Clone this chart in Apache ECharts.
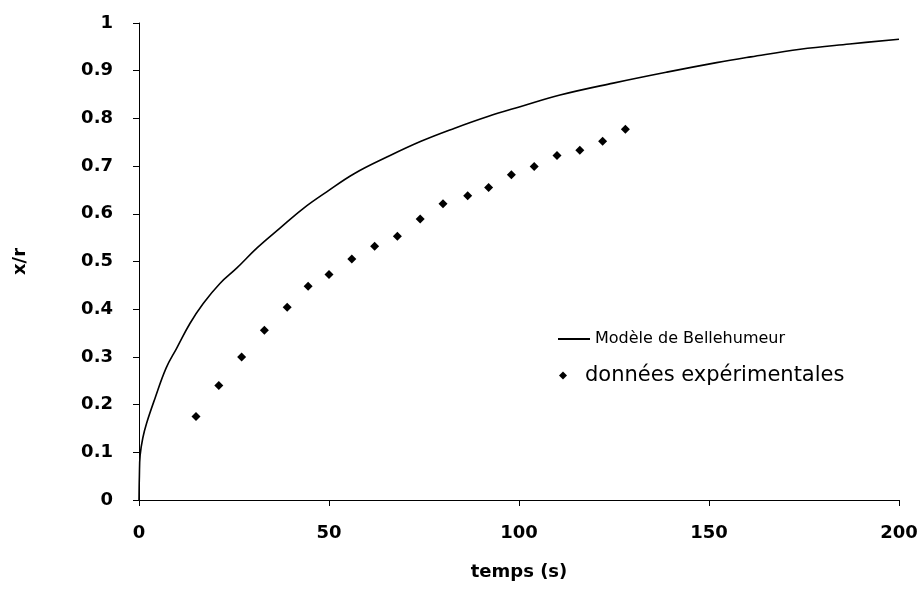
<!DOCTYPE html>
<html><head><meta charset="utf-8">
<script src="https://cdn.jsdelivr.net/npm/echarts@6/dist/echarts.min.js"></script>
<style>html,body{margin:0;padding:0;background:#fff}#c{width:923px;height:602px}</style>
</head><body><div id="c"></div>
<script>
const modelT = [0, 0.1, 0.3, 1, 2, 4.2, 7.1, 9.9, 13.4, 16.9, 21.3, 25.7, 31, 37.1, 43.2, 49.4, 56.6, 65.5, 74.2, 82.9, 91.8, 100.5, 110.8, 124.8, 138.9, 152, 161, 174, 187, 200];
const modelY = [0, 0.05, 0.094, 0.13, 0.161, 0.213, 0.276, 0.318, 0.370, 0.412, 0.454, 0.486, 0.528, 0.570, 0.611, 0.646, 0.684, 0.720, 0.752, 0.779, 0.804, 0.825, 0.849, 0.874, 0.897, 0.917, 0.929, 0.945, 0.956, 0.966];
const expT = [15, 21, 27, 33, 39, 44.5, 50, 56, 62, 68, 74, 80, 86.5, 92, 98, 104, 110, 116, 122, 128];
const expY = [0.175, 0.24, 0.30, 0.356, 0.404, 0.448, 0.473, 0.505, 0.532, 0.553, 0.589, 0.621, 0.638, 0.655, 0.682, 0.699, 0.722, 0.733, 0.752, 0.777];
const xTicks = [0, 50, 100, 150, 200];
const yTicks = [0, 0.1, 0.2, 0.3, 0.4, 0.5, 0.6, 0.7, 0.8, 0.9, 1];
const seriesNames = ['Modèle de Bellehumeur', 'données expérimentales'];

const font = 'DejaVu Sans, Verdana, sans-serif';
const chart = echarts.init(document.getElementById('c'));
chart.setOption({
  animation: false,
  backgroundColor: '#fff',
  grid: {left: 139, right: 24, top: 23, bottom: 102},
  legend: [
    {data: [{name: seriesNames[0], icon: 'rect'}], left: 558, top: 331, padding: 0, itemWidth: 32, itemHeight: 2,
     itemStyle: {color: '#000', opacity: 1},
     textStyle: {fontSize: 16, color: '#000', fontFamily: font}},
    {data: [{name: seriesNames[1], icon: 'diamond'}], left: 559, top: 365, padding: 0, itemWidth: 8, itemHeight: 8,
     itemStyle: {color: '#000', opacity: 1},
     textStyle: {fontSize: 21, color: '#000', fontFamily: font, padding: [0,0,0,13]}}
  ],
  xAxis: {
    type: 'value', min: xTicks[0], max: xTicks[xTicks.length - 1], interval: 50,
    name: 'temps (s)', nameLocation: 'middle', nameGap: 63,
    nameTextStyle: {fontSize: 18, fontWeight: 'bold', color: '#000', fontFamily: font},
    axisLine: {lineStyle: {color: '#000', width: 1}},
    axisTick: {show: true, length: 6, lineStyle: {color: '#000'}},
    axisLabel: {fontSize: 18, fontWeight: 'bold', color: '#000', fontFamily: font, margin: 24},
    splitLine: {show: false}
  },
  yAxis: {
    type: 'value', min: yTicks[0], max: yTicks[yTicks.length - 1], interval: 0.1,
    name: 'x/r', nameLocation: 'middle', nameGap: 110, nameRotate: 90,
    nameTextStyle: {fontSize: 18, fontWeight: 'bold', color: '#000', fontFamily: font},
    axisLine: {show: true, lineStyle: {color: '#000', width: 1}},
    axisTick: {show: true, length: 6, lineStyle: {color: '#000'}},
    axisLabel: {fontSize: 18, fontWeight: 'bold', color: '#000', fontFamily: font, margin: 26,
      formatter: v => String(Math.round(v * 10) / 10)},
    splitLine: {show: false}
  },
  series: [
    {name: seriesNames[0], type: 'line', smooth: 0.4, symbol: 'none',
     lineStyle: {color: '#000', width: 1.6},
     itemStyle: {color: '#000'},
     data: modelT.map((t, i) => [t, modelY[i]])},
    {name: seriesNames[1], type: 'scatter', symbol: 'diamond', symbolSize: 9,
     itemStyle: {color: '#000', opacity: 1},
     data: expT.map((t, i) => [t, expY[i]])}
  ]
});
</script></body></html>
